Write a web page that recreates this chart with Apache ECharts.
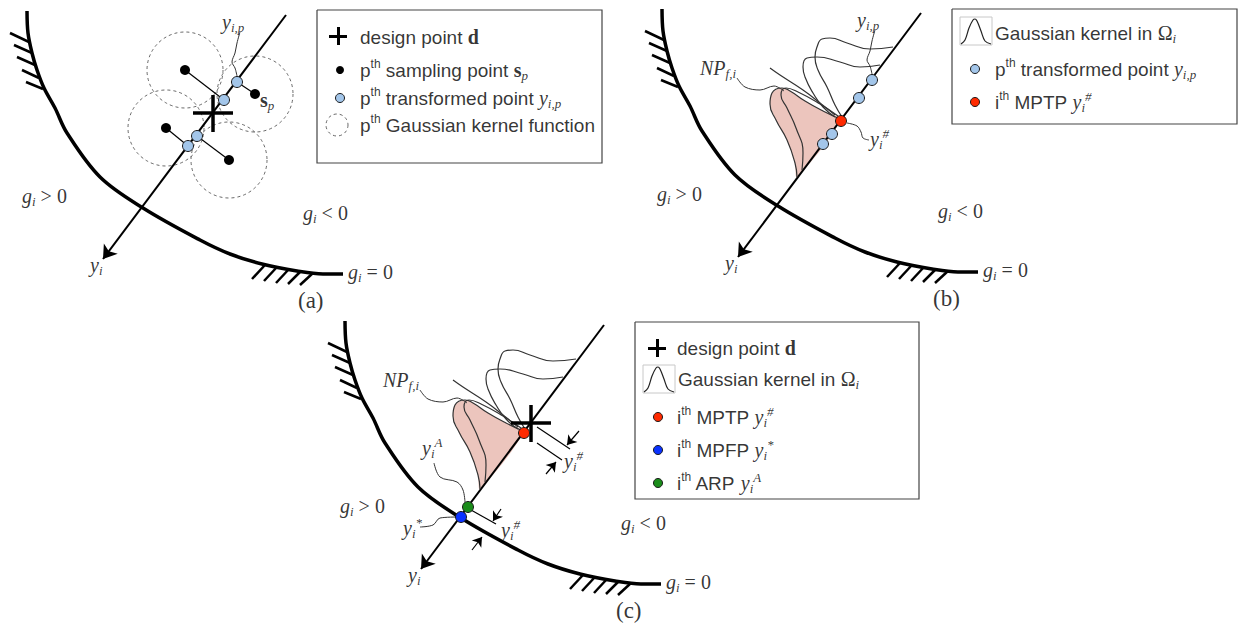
<!DOCTYPE html>
<html>
<head>
<meta charset="utf-8">
<script src="https://cdn.jsdelivr.net/npm/echarts@6/dist/echarts.min.js"></script>
<style>
  html, body { margin: 0; background: #fff; }
  #chart { width: 1239px; height: 626px; }
</style>
</head>
<body>
<div id="chart"></div>
<script>
const SERIF = "'Liberation Serif', 'Times New Roman', serif";
const SANS = "'Liberation Sans', Arial, sans-serif";

// panel origins (a), (b), (c) - shared geometry below is in panel-local pixels
const panelOffsets = [[0, 0], [635, -2], [318, 310]];

// limit state g_i = 0
const limitCurve = [[27, 11], [28, 33], [32, 53], [37, 70], [44, 88], [55, 108], [67, 133], [100, 177],
  [143, 208], [200, 240], [230, 254], [262, 264], [297, 271], [323, 274], [343, 274]];
const hatchTop = [[[10, 33], [29, 42]], [[14, 45], [32, 53]], [[17, 57], [35, 65]], [[22, 70], [39, 78]], [[26, 82], [43, 89]]];
const hatchBottom = [[[252, 279], [265, 265]], [[264, 281], [277, 267]], [[276, 283], [289, 269]], [[288, 284], [301, 271]], [[300, 285], [313, 273]]];
const axisLine = [[286, 15], [103, 259]];
const designCross = [[[193, 113], [233, 113]], [[213, 95], [213, 132]]];

// panel (a)
const samplingPts = [[185, 70], [255, 94], [166, 128], [229, 160]];
const transformedPts = [[237, 82], [224, 100], [197, 136], [188, 146]];
const projIndex = [1, 0, 3, 2];
const leaderYip = [[240, 32], [237, 43], [235, 53], [232, 62], [235, 68], [237, 76]];

// kernels in Omega_i, panels (b) and (c)
const pinkArea = [[162, 179], [160, 165], [152, 142], [141, 122], [135, 106], [137, 95], [147, 90], [155, 93], [170, 103], [188, 113], [205, 122]];
const kernelCurves = [
  [[162, 179], [160, 165], [152, 142], [141, 122], [135, 106], [137, 95], [147, 90], [155, 93], [170, 103], [188, 113], [205, 121]],
  [[167, 172], [168, 155], [161, 130], [152, 110], [146, 97], [151, 90], [163, 94], [185, 106], [203, 118]],
  [[200, 119], [188, 109], [178, 95], [170, 79], [168, 69], [172, 60], [182, 59], [205, 64], [225, 69], [245, 67]],
  [[207, 119], [200, 107], [192, 89], [183, 72], [180, 59], [182, 49], [187, 41], [195, 40], [212, 45], [235, 51], [258, 49]],
  [[135, 70], [145, 77], [168, 92], [185, 105], [200, 117]]
];
const leaderNP = [[102, 80], [110, 89], [125, 92], [139, 88], [149, 93]];
const mptp = [206, 123];
const leaderHashB = [[212, 125], [222, 128], [226, 134], [228, 140], [234, 142]];

// panel (c)
const arp = [150, 197];
const mpfp = [143, 207];
const perpLines = [[[219, 117], [252, 139]], [[219, 133], [244, 150]], [[153, 200], [178, 214]]];
const smallArrows = [[[261, 121], [249, 135]], [[228, 164], [238, 152]], [[183, 199], [175, 211]], [[154, 240], [164, 227]]];
const leaderA = [[116, 153], [122, 167], [139, 172], [145, 180], [147, 192]];
const leaderStar = [[102, 217], [115, 215], [122, 208], [139, 207]];

// text (x left, y middle), local
const commonLabels = [
  [22, 196, '{it|g}{sub|i}{rm| > 0}'],
  [303, 213, '{it|g}{sub|i}{rm| < 0}'],
  [348, 272, '{it|g}{sub|i}{rm| = 0}'],
  [90, 265, '{it|y}{sub|i}']
];
const panelLetters = ['(a)', '(b)', '(c)'];
const letterPos = [298, 300];
const labelsA = [[222, 22, '{it|y}{sub|i,p}'], [260, 100, '{bd|s}{sub|p}']];
const labelsB = [[222, 22, '{it|y}{sub|i,p}'], [65, 70, '{it|NP}{sub|f,i}'], [235, 141, '{it|y}{sub|i}{sup|#}']];
const labelsC = [[65, 70, '{it|NP}{sub|f,i}'], [246, 151, '{it|y}{sub|i}{sup|#}'], [183, 220, '{it|y}{sub|i}{sup|#}'],
  [104, 138, '{it|y}{sub|i}{sup|A}'], [85, 218, '{it|y}{sub|i}{sup|*}']];

// legends (absolute)
const legendBoxes = [[317, 10, 602, 163], [952, 9, 1237, 124], [635, 322, 919, 499]];
const legendCrosses = [[338, 36], [657, 348]];
const legendBlack = [[340, 70]];
const legendBlue = [[340, 98], [975, 69]];
const legendRed = [[975, 102], [658, 417]];
const legendMpfp = [[658, 450]];
const legendGreen = [[658, 483]];
const legendCircle = [[337, 125]];
const gaussIconAt = [[960, 17], [643, 365]];
const bellIcon = [[1, 27], [5, 23], [9, 11], [13, 3], [15, 2], [17, 4], [21, 14], [25, 24], [31, 27]];
const legendTexts = [
  [360, 37, '{tx|design point }{bd|d}'],
  [360, 70, '{tx|p}{txs|th}{tx| sampling point }{bd|s}{sub|p}'],
  [360, 98, '{tx|p}{txs|th}{tx| transformed point }{it|y}{sub|i,p}'],
  [360, 125, '{tx|p}{txs|th}{tx| Gaussian kernel function}'],
  [995, 33, '{tx|Gaussian kernel in }{rm|Ω}{sub|i}'],
  [995, 69, '{tx|p}{txs|th}{tx| transformed point }{it|y}{sub|i,p}'],
  [995, 102, '{tx|i}{txs|th}{tx| MPTP }{it|y}{sub|i}{sup|#}'],
  [677, 348, '{tx|design point }{bd|d}'],
  [678, 379, '{tx|Gaussian kernel in }{rm|Ω}{sub|i}'],
  [677, 417, '{tx|i}{txs|th}{tx| MPTP }{it|y}{sub|i}{sup|#}'],
  [677, 450, '{tx|i}{txs|th}{tx| MPFP }{it|y}{sub|i}{sup|*}'],
  [677, 483, '{tx|i}{txs|th}{tx| ARP }{it|y}{sub|i}{sup|A}']
];

const shift = (pts, o) => pts.map(p => [p[0] + o[0], p[1] + o[1]]);

const curve = function (pts, width, color, z, smooth) {
  return {
    type: 'line', data: pts, smooth: smooth || 0.35, symbol: 'none', silent: true, animation: false,
    lineStyle: { width: width, color: color }, z: z || 3
  };
};

const segments = function (list, width, color, extra) {
  return Object.assign({
    type: 'lines', coordinateSystem: 'cartesian2d', polyline: false, silent: true, animation: false,
    data: list.map(s => ({ coords: s })),
    lineStyle: { width: width, color: color, opacity: 1 },
    itemStyle: { color: color },
    z: 3
  }, extra || {});
};

const dots = function (pts, size, color, border) {
  return {
    type: 'scatter', data: pts, symbolSize: size, silent: true, animation: false,
    itemStyle: { color: color, borderColor: '#1a1a1a', borderWidth: border ? 1 : 0, opacity: 1 },
    z: 6
  };
};

const rich = {
  it: { fontFamily: SERIF, fontStyle: 'italic', fontSize: 20, lineHeight: 24, color: '#000' },
  rm: { fontFamily: SERIF, fontSize: 20, lineHeight: 24, color: '#000' },
  lt: { fontFamily: SERIF, fontSize: 23, lineHeight: 26, color: '#000' },
  bd: { fontFamily: SERIF, fontWeight: 'bold', fontSize: 20, lineHeight: 24, color: '#000' },
  sub: { fontFamily: SERIF, fontStyle: 'italic', fontSize: 13, lineHeight: 12, verticalAlign: 'bottom', color: '#000' },
  sup: { fontFamily: SERIF, fontStyle: 'italic', fontSize: 13, lineHeight: 12, verticalAlign: 'top', color: '#000' },
  tx: { fontFamily: SANS, fontSize: 19, lineHeight: 24, color: '#000' },
  txs: { fontFamily: SANS, fontSize: 12, lineHeight: 12, verticalAlign: 'top', color: '#000' }
};

const texts = function (list) {
  return {
    type: 'scatter', symbolSize: 0, silent: true, animation: false, z: 8,
    data: list.map(t => ({
      value: [t[0], t[1]],
      label: { formatter: () => t[2] }
    })),
    label: { show: true, position: 'inside', align: 'left', verticalAlign: 'middle', rich: rich }
  };
};

const series = [];

// shared geometry for the three panels
panelOffsets.forEach((o, k) => {
  series.push(curve(shift(limitCurve, o), 3.5, '#000', 4));
  series.push(segments(hatchTop.concat(hatchBottom).map(s => shift(s, o)), 2.5, '#000'));
  series.push(segments([shift(axisLine, o)], 2, '#000', { symbol: ['none', 'arrow'], symbolSize: 13 }));
  series.push(texts(commonLabels.map(t => [t[0] + o[0], t[1] + o[1], t[2]])
    .concat([[letterPos[0] + o[0], letterPos[1] + o[1], '{lt|' + panelLetters[k] + '}']])));
});

// panel (a)
const oa = panelOffsets[0];
series.push({
  type: 'scatter', data: shift(samplingPts, oa), symbol: 'circle', symbolSize: 76, silent: true, animation: false,
  itemStyle: { color: 'rgba(0,0,0,0)', borderColor: '#444', borderWidth: 1, borderType: [3, 3] }, z: 2
});
series.push(segments(samplingPts.map((p, i) => shift([p, transformedPts[projIndex[i]]], oa)), 1.2, '#000'));
series.push(segments(designCross.map(s => shift(s, oa)), 3.5, '#000', { z: 5 }));
series.push(curve(shift(leaderYip, oa), 1, '#333'));
series.push(dots(shift(samplingPts, oa), 10, '#000', false));
series.push(dots(shift(transformedPts, oa), 11, '#a3c6ea', true));
series.push(texts(labelsA.map(t => [t[0] + oa[0], t[1] + oa[1], t[2]])));

// kernels, panels (b) and (c)
series.push({
  type: 'custom', silent: true, animation: false, z: 1,
  data: [panelOffsets[1], panelOffsets[2]],
  renderItem: (params, api) => ({
    type: 'polygon',
    shape: { points: shift(pinkArea, [api.value(0), api.value(1)]).map(p => api.coord(p)), smooth: 0.3 },
    style: { fill: '#ecc5bd' }
  })
});
[panelOffsets[1], panelOffsets[2]].forEach(o => {
  kernelCurves.forEach(c => series.push(curve(shift(c, o), 1.2, '#333', 3, 0.5)));
  series.push(curve(shift(leaderNP, o), 1, '#333'));
});

// panel (b)
const ob = panelOffsets[1];
series.push(curve(shift(leaderYip, ob), 1, '#333'));
series.push(curve(shift(leaderHashB, ob), 1, '#333'));
series.push(dots(shift(transformedPts, ob), 11, '#a3c6ea', true));
series.push(dots(shift([mptp], ob), 11, '#ff2a00', true));
series.push(texts(labelsB.map(t => [t[0] + ob[0], t[1] + ob[1], t[2]])));

// panel (c)
const oc = panelOffsets[2];
series.push(segments(designCross.map(s => shift(s, oc)), 3.5, '#000', { z: 5 }));
series.push(segments(perpLines.map(s => shift(s, oc)), 1.2, '#000'));
series.push(segments(smallArrows.map(s => shift(s, oc)), 1.2, '#000', { symbol: ['none', 'arrow'], symbolSize: 9 }));
series.push(curve(shift(leaderA, oc), 1, '#333'));
series.push(curve(shift(leaderStar, oc), 1, '#333'));
series.push(dots(shift([mptp], oc), 11, '#ff2a00', true));
series.push(dots(shift([arp], oc), 11, '#1a8c1a', true));
series.push(dots(shift([mpfp], oc), 11, '#0a32ff', true));
series.push(texts(labelsC.map(t => [t[0] + oc[0], t[1] + oc[1], t[2]])));

// legends
series.push(segments(legendBoxes.map(b => [[b[0], b[1]], [b[2], b[1]], [b[2], b[3]], [b[0], b[3]], [b[0], b[1]]]), 1.2, '#444', { polyline: true }));
series.push(segments(legendCrosses.flatMap(c => [[[c[0] - 9, c[1]], [c[0] + 9, c[1]]], [[c[0], c[1] - 9], [c[0], c[1] + 9]]]), 3, '#000'));
series.push(segments(gaussIconAt.map(g => [[g[0], g[1]], [g[0] + 32, g[1]], [g[0] + 32, g[1] + 28], [g[0], g[1] + 28], [g[0], g[1]]]), 1, '#c8c8c8', { polyline: true }));
gaussIconAt.forEach(g => series.push(curve(shift(bellIcon, g), 1.2, '#222')));
series.push({
  type: 'scatter', data: legendCircle, symbol: 'circle', symbolSize: 22, silent: true, animation: false,
  itemStyle: { color: 'rgba(0,0,0,0)', borderColor: '#444', borderWidth: 1, borderType: [3, 3] }, z: 2
});
series.push(dots(legendBlack, 8, '#000', false));
series.push(dots(legendBlue, 9, '#a3c6ea', true));
series.push(dots(legendRed, 9, '#ff2a00', true));
series.push(dots(legendMpfp, 9, '#0a32ff', true));
series.push(dots(legendGreen, 9, '#1a8c1a', true));
series.push(texts(legendTexts));

const chart = echarts.init(document.getElementById('chart'), null, { renderer: 'svg' });
chart.setOption({
  backgroundColor: '#fff',
  animation: false,
  grid: { left: 0, right: 0, top: 0, bottom: 0 },
  xAxis: { type: 'value', min: 0, max: 1239, show: false },
  yAxis: { type: 'value', min: 0, max: 626, inverse: true, show: false },
  series: series
});
</script>
</body>
</html>
